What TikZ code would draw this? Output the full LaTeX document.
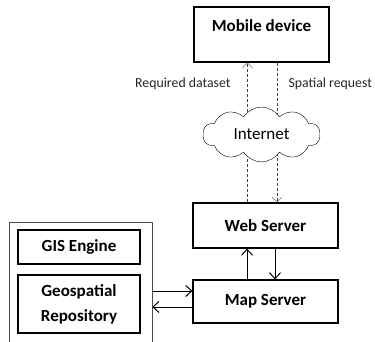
\documentclass[tikz,border=0pt]{standalone}
\usepackage{fontspec}
\setmainfont{Carlito}
\usetikzlibrary{arrows.meta,shapes.symbols}

\begin{document}
\begin{tikzpicture}[x=1pt,y=-1pt]

        \tikzset{
            box/.style={draw, line width=1.1pt, font=\fontsize{17}{21}\selectfont\bfseries, align=center},
            lbl/.style={font=\fontsize{13.8}{16}\selectfont, text=black!85},
            link/.style={dash pattern=on 3pt off 2pt, thin, black!75, -{Straight Barb[length=5pt,width=10pt]}},
            arr/.style={line width=1pt, -{Straight Barb[length=6pt,width=11pt]}},
            frame/.style={draw, black!70, thin}
        }

        \useasboundingbox (0,0) rectangle (375,341);

        % boxes
        \node[box, minimum width=135, minimum height=55, text height=14pt, text depth=21pt, inner ysep=10pt]
            (mobile) at (261.5,34.5) {Mobile device};
        \node[box, minimum width=145, minimum height=45] (web) at (265.5,225.5) {Web Server};
        \node[box, minimum width=145, minimum height=43] (map) at (265.5,301.5) {Map Server};

        \node[frame, minimum width=143, minimum height=140] (store) at (80.5,292) {};
        \node[box, minimum width=122, minimum height=34] (gis) at (79,247) {GIS Engine};
        \node[box, minimum width=122, minimum height=58] (geo) at (79,304) {Geospatial\\[4pt]Repository};

        % dashed links through the cloud
        \draw[link] ([xshift=-18pt]web.north) -- ([xshift=-18pt]web.north |- mobile.south);
        \draw[link] ([xshift=11.5pt]web.north |- mobile.south) -- ([xshift=11.5pt]web.north);

        \node[cloud, draw, fill=white, thin, cloud puffs=10, cloud puff arc=115, aspect=2.2,
            minimum width=117, minimum height=55, inner sep=0pt, font=\fontsize{17}{20}\selectfont]
            (net) at (261.5,134.5) {Internet};

        \node[lbl, anchor=east] (reqlbl) at (234,84) {Required dataset};
        \node[lbl, anchor=west] (spalbl) at (285,84) {Spatial request};

        % server links
        \draw[arr] ([xshift=-18.5pt]map.north) -- ([xshift=-18.5pt]map.north |- web.south);
        \draw[arr] ([xshift=9.5pt]web.south) -- ([xshift=9.5pt]web.south |- map.north);
        \draw[arr] ([yshift=10.5pt]map.west -| store.east) -- ([yshift=10.5pt]map.west);
        \draw[arr] ([yshift=-5.5pt]map.west) -- ([yshift=-5.5pt]map.west -| store.east);

    \end{tikzpicture}
\end{document}
